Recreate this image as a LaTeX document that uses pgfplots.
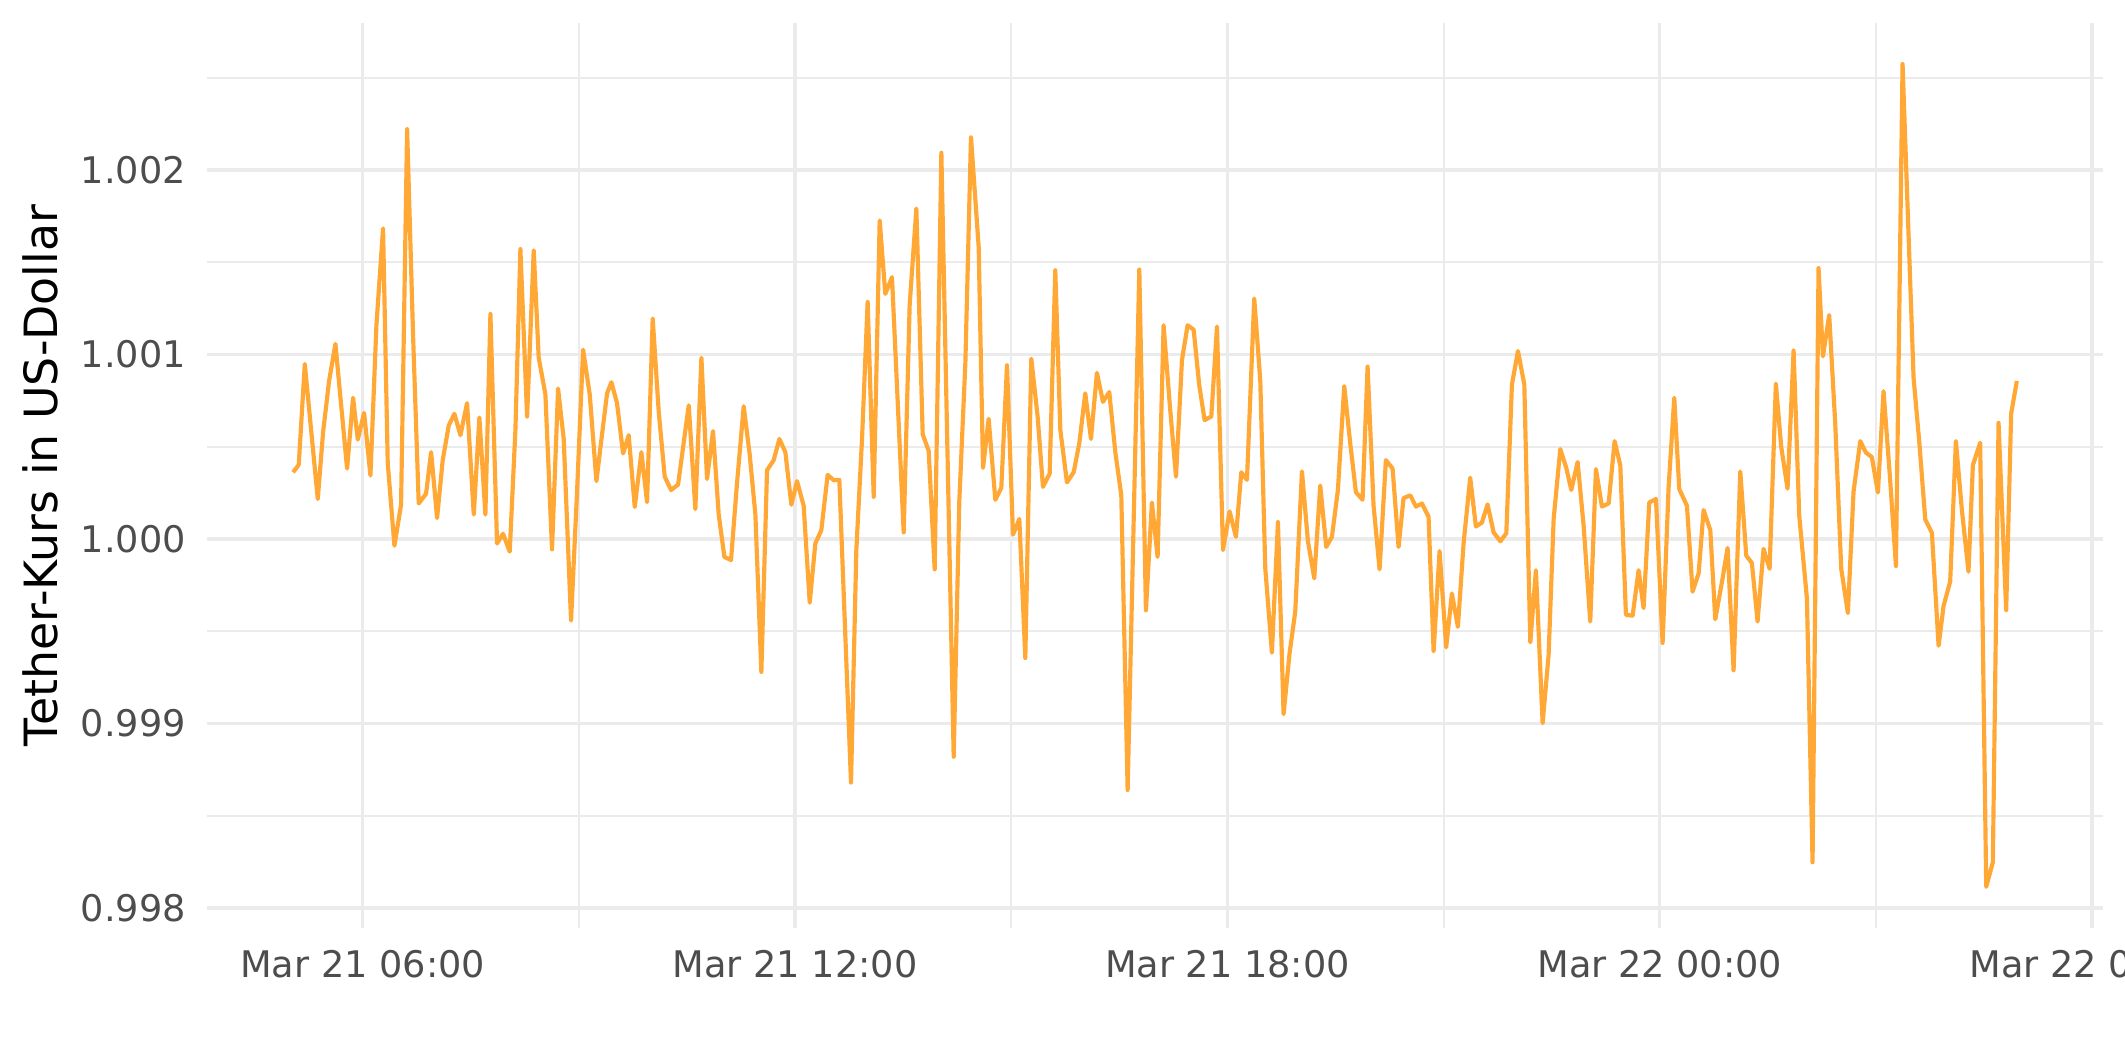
\documentclass[border=0pt]{standalone}
\usepackage{fontspec}
\setmainfont{DejaVu Sans}
\usepackage{pgfplots}
\pgfplotsset{compat=1.18}
\definecolor{gridc}{HTML}{EBEBEB}
\definecolor{tickc}{HTML}{4D4D4D}
\definecolor{usdt}{HTML}{FFA836}

\begin{document}
\begin{tikzpicture}
\begin{axis}[
    at={(49.7pt,32.2pt)}, anchor=south west,
    scale only axis, width=455pt, height=217.2pt,
    xmin=3.84, xmax=30.15,
    ymin=0.997892, ymax=1.002798,
    axis line style={draw=none},
    major tick length=0pt, minor tick length=0pt,
    xtick={6,12,18,24,30},
    xticklabels={Mar 21 06:00,Mar 21 12:00,Mar 21 18:00,Mar 22 00:00,Mar 22 06:00},
    minor xtick={9,15,21,27},
    ytick={0.998,0.999,1.000,1.001,1.002},
    yticklabels={0.998,0.999,1.000,1.001,1.002},
    minor ytick={0.9985,0.9995,1.0005,1.0015,1.0025},
    grid=both,
    major grid style={line width=0.8pt, color=gridc},
    minor grid style={line width=0.45pt, color=gridc},
    tick label style={font=\fontsize{8.8}{10}\selectfont, text=tickc},
    xticklabel style={yshift=-1.9pt},
    yticklabel style={xshift=-1.6pt},
    ylabel={Tether-Kurs in US-Dollar},
    ylabel style={font=\fontsize{11}{13}\selectfont, at={(axis description cs:-0.0879,0.5)}, anchor=center},
]
% 5-minute prices, x = hours since Mar 21 00:00
\addplot[usdt, line width=1pt, line join=round] coordinates {
(5.034,1.000362) (5.112,1.000403) (5.196,1.000949) (5.376,1.000217) (5.450,1.000580)
(5.533,1.000857) (5.621,1.001058) (5.783,1.000382) (5.866,1.000766) (5.931,1.000539)
(6.019,1.000684) (6.107,1.000345) (6.190,1.001159) (6.282,1.001684) (6.347,1.000411)
(6.440,0.999964) (6.532,1.000186) (6.616,1.002222) (6.699,1.001099) (6.777,1.000193)
(6.879,1.000246) (6.949,1.000471) (7.032,1.000114) (7.110,1.000428) (7.194,1.000616)
(7.272,1.000679) (7.356,1.000563) (7.448,1.000737) (7.541,1.000133) (7.619,1.000659)
(7.702,1.000133) (7.772,1.001220) (7.864,0.999976) (7.947,1.000029) (8.040,0.999932)
(8.119,1.000592) (8.188,1.001572) (8.281,1.000664) (8.373,1.001565) (8.442,1.000983)
(8.535,1.000785) (8.627,0.999944) (8.711,1.000816) (8.789,1.000543) (8.891,0.999558)
(8.974,1.000254) (9.058,1.001027) (9.150,1.000785) (9.243,1.000314) (9.321,1.000568)
(9.391,1.000790) (9.451,1.000850) (9.529,1.000737) (9.613,1.000464) (9.691,1.000563)
(9.775,1.000174) (9.867,1.000471) (9.946,1.000200) (10.024,1.001196) (10.108,1.000688)
(10.191,1.000338) (10.279,1.000266) (10.376,1.000295) (10.445,1.000495) (10.524,1.000725)
(10.616,1.000162) (10.700,1.000983) (10.778,1.000326) (10.861,1.000585) (10.940,1.000133)
(11.019,0.999903) (11.111,0.999886) (11.194,1.000302) (11.287,1.000720) (11.370,1.000459)
(11.449,1.000133) (11.532,0.999280) (11.611,1.000374) (11.703,1.000428) (11.782,1.000543)
(11.865,1.000471) (11.948,1.000186) (12.027,1.000314) (12.119,1.000181) (12.203,0.999655)
(12.281,0.999976) (12.364,1.000048) (12.452,1.000348) (12.536,1.000319) (12.614,1.000321)
(12.776,0.998680) (12.850,0.999940) (12.929,1.000543) (13.007,1.001285) (13.091,1.000229)
(13.174,1.001727) (13.252,1.001329) (13.345,1.001420) (13.507,1.000036) (13.590,1.001268)
(13.683,1.001792) (13.771,1.000568) (13.854,1.000478) (13.937,0.999836) (14.030,1.002094)
(14.201,0.998820) (14.279,1.000205) (14.363,1.000954) (14.441,1.002179) (14.548,1.001582)
(14.608,1.000386) (14.686,1.000652) (14.779,1.000213) (14.862,1.000278) (14.941,1.000942)
(15.024,1.000024) (15.112,1.000109) (15.195,0.999355) (15.278,1.000978) (15.366,1.000664)
(15.440,1.000283) (15.533,1.000355) (15.611,1.001457) (15.681,1.000592) (15.773,1.000307)
(15.866,1.000362) (15.944,1.000519) (16.027,1.000790) (16.106,1.000543) (16.189,1.000901)
(16.273,1.000744) (16.360,1.000797) (16.444,1.000471) (16.527,1.000237) (16.615,0.998640)
(16.777,1.001461) (16.869,0.999614) (16.952,1.000198) (17.031,0.999903) (17.114,1.001159)
(17.198,1.000737) (17.286,1.000338) (17.369,1.000971) (17.447,1.001159) (17.531,1.001135)
(17.609,1.000833) (17.683,1.000645) (17.776,1.000664) (17.855,1.001152) (17.938,0.999940)
(18.030,1.000150) (18.118,1.000012) (18.192,1.000362) (18.271,1.000321) (18.372,1.001304)
(18.456,1.000857) (18.525,0.999843) (18.617,0.999384) (18.701,1.000092) (18.779,0.999051)
(18.863,0.999384) (18.941,0.999606) (19.034,1.000367) (19.117,0.999988) (19.205,0.999787)
(19.288,1.000290) (19.371,0.999957) (19.450,1.000012) (19.533,1.000266) (19.621,1.000829)
(19.704,1.000519) (19.783,1.000254) (19.875,1.000213) (19.945,1.000935) (20.028,1.000181)
(20.111,0.999836) (20.199,1.000428) (20.292,1.000382) (20.375,0.999957) (20.444,1.000222)
(20.537,1.000237) (20.616,1.000176) (20.699,1.000193) (20.791,1.000121) (20.861,0.999391)
(20.944,0.999935) (21.036,0.999413) (21.115,0.999705) (21.198,0.999524) (21.277,0.999976)
(21.369,1.000333) (21.448,1.000068) (21.531,1.000089) (21.610,1.000188) (21.694,1.000036)
(21.787,0.999988) (21.870,1.000031) (21.948,1.000838) (22.032,1.001019) (22.120,1.000838)
(22.203,0.999440) (22.281,0.999831) (22.374,0.999002) (22.457,0.999372) (22.527,1.000109)
(22.619,1.000488) (22.702,1.000386) (22.772,1.000266) (22.860,1.000418) (22.943,1.000072)
(23.035,0.999553) (23.114,1.000379) (23.197,1.000176) (23.290,1.000193) (23.373,1.000531)
(23.452,1.000399) (23.530,0.999589) (23.623,0.999585) (23.706,0.999831) (23.775,0.999626)
(23.854,1.000198) (23.947,1.000217) (24.039,0.999437) (24.122,1.000278) (24.201,1.000766)
(24.270,1.000271) (24.377,1.000181) (24.455,0.999715) (24.539,0.999814) (24.608,1.000157)
(24.701,1.000048) (24.770,0.999565) (24.862,0.999766) (24.941,0.999952) (25.024,0.999289)
(25.117,1.000366) (25.200,0.999910) (25.278,0.999870) (25.357,0.999553) (25.440,0.999947)
(25.524,0.999839) (25.611,1.000842) (25.685,1.000500) (25.773,1.000273) (25.857,1.001022)
(25.935,1.000127) (26.042,0.999677) (26.120,0.998248) (26.203,1.001469) (26.264,1.000991)
(26.351,1.001214) (26.435,1.000624) (26.518,0.999839) (26.610,0.999599) (26.689,1.000258)
(26.782,1.000531) (26.860,1.000469) (26.943,1.000444) (27.027,1.000252) (27.105,1.000801)
(27.198,1.000314) (27.277,0.999854) (27.369,1.002575) (27.522,1.000873) (27.600,1.000531)
(27.684,1.000106) (27.776,1.000034) (27.869,0.999422) (27.938,0.999637) (28.030,0.999770)
(28.109,1.000531) (28.192,1.000158) (28.284,0.999823) (28.345,1.000401) (28.446,1.000522)
(28.530,0.998115) (28.622,0.998248) (28.701,1.000630) (28.807,0.999615) (28.876,1.000680)
(28.955,1.000857)
};
\end{axis}
\pgfresetboundingbox
\useasboundingbox (0,0) rectangle (510pt,254.9pt);
\end{tikzpicture}
\end{document}
